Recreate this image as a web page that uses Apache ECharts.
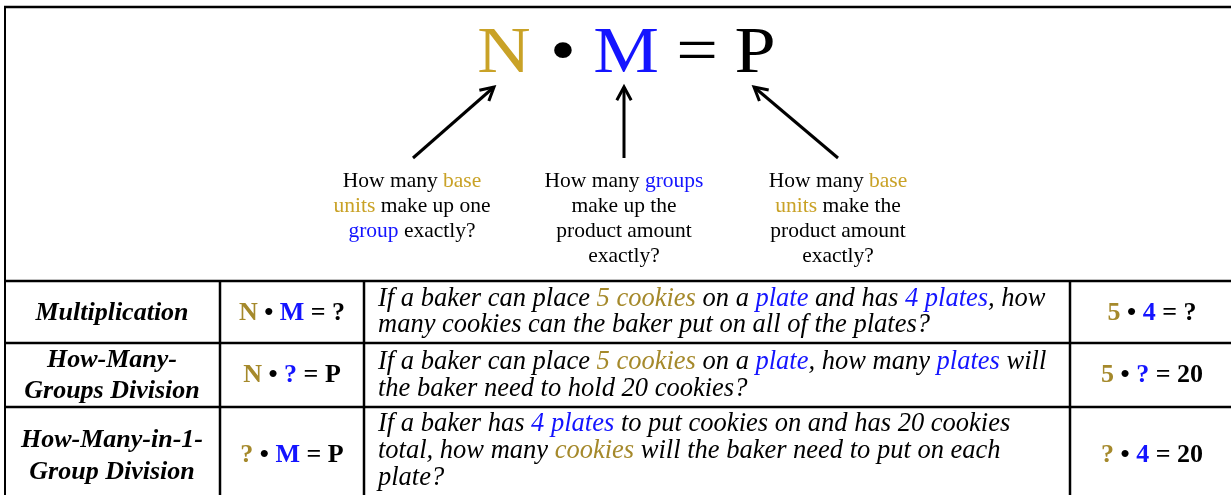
<!DOCTYPE html>
<html>
<head>
<meta charset="utf-8">
<script src="https://cdn.jsdelivr.net/npm/echarts@6/dist/echarts.min.js"></script>
<style>
  html, body { margin: 0; padding: 0; background: #ffffff; }
  #chart { width: 1231px; height: 495px; }
</style>
</head>
<body>
<div id="chart"></div>
<script>
// ---------- DATA ----------
const topFormula = [["N", "g"], ["•", "k"], ["M", "b"], ["=", "k"], ["P", "k"]];

const annotations = [
  [[["How many ", "k"], ["base", "g"]],
   [["units", "g"], [" make up one", "k"]],
   [["group", "b"], [" exactly?", "k"]]],
  [[["How many ", "k"], ["groups", "b"]],
   [["make up the", "k"]],
   [["product amount", "k"]],
   [["exactly?", "k"]]],
  [[["How many ", "k"], ["base", "g"]],
   [["units", "g"], [" make the", "k"]],
   [["product amount", "k"]],
   [["exactly?", "k"]]]
];

const rowLabels = [
  ["Multiplication"],
  ["How-Many-", "Groups Division"],
  ["How-Many-in-1-", "Group Division"]
];

const rowFormulas = [
  [["N", "g"], [" • ", "k"], ["M", "b"], [" = ?", "k"]],
  [["N", "g"], [" • ", "k"], ["?", "b"], [" = P", "k"]],
  [["?", "g"], [" • ", "k"], ["M", "b"], [" = P", "k"]]
];

const rowQuestions = [
  [[["If a baker can place ", "k"], ["5 cookies", "g"], [" on a ", "k"], ["plate", "b"], [" and has ", "k"], ["4 plates", "b"], [", how", "k"]],
   [["many cookies can the baker put on all of the plates?", "k"]]],
  [[["If a baker can place ", "k"], ["5 cookies", "g"], [" on a ", "k"], ["plate", "b"], [", how many ", "k"], ["plates", "b"], [" will", "k"]],
   [["the baker need to hold 20 cookies?", "k"]]],
  [[["If a baker has ", "k"], ["4 plates", "b"], [" to put cookies on and has 20 cookies", "k"]],
   [["total, how many ", "k"], ["cookies", "g"], [" will the baker need to put on each", "k"]],
   [["plate?", "k"]]]
];

const rowExamples = [
  [["5", "g"], [" • ", "k"], ["4", "b"], [" = ?", "k"]],
  [["5", "g"], [" • ", "k"], ["?", "b"], [" = 20", "k"]],
  [["?", "g"], [" • ", "k"], ["4", "b"], [" = 20", "k"]]
];

// ---------- LAYOUT / STYLE ----------
const SERIF = "'Liberation Serif', 'Times New Roman', serif";
const GOLD_TOP = "#c9a227";
const GOLD_TAB = "#a5892b";
const BLUE = "#1414ff";
const INK = "#000000";

const topX = [504, 563, 626, 697, 755];
const topMid = 55;
const topSize = 66;
const topStretch = 1.12;
const arrows = [
  { from: [413, 158], to: [494, 87] },
  { from: [624, 158], to: [624, 87] },
  { from: [838, 158], to: [754, 87] }
];
const annX = [412, 624, 838];
const annMid0 = 181, annStep = 25, annSize = 21.5;

const tableTop = 281;
const rowLines = [343, 407];
const colLines = [220, 364, 1070];
const colCenters = [112, 292, 0, 1152];
const textLeft = 378;
const labelMids = [[313], [360, 391], [440, 472]];
const formulaMids = [313, 375, 455];
const questionMids = [[299, 325], [362, 389], [424, 451, 478]];
const questionSize = 26.5;

function rich(segs) {
  return segs.map(([t, c]) => `{${c}|${t}}`).join("");
}
function richStyles(size, weight, style, gold) {
  const base = { fontFamily: SERIF, fontSize: size, fontWeight: weight, fontStyle: style };
  return {
    k: Object.assign({ fill: INK }, base),
    g: Object.assign({ fill: gold }, base),
    b: Object.assign({ fill: BLUE }, base)
  };
}
function textEl(x, y, segs, size, weight, style, gold, align, sx) {
  return {
    type: "text", x: x, y: y, silent: true, scaleX: sx || 1,
    style: {
      text: rich(segs),
      rich: richStyles(size, weight, style, gold),
      font: `${style} ${weight} ${size}px ${SERIF}`,
      textAlign: align || "center",
      textVerticalAlign: "middle"
    }
  };
}
function lineEl(x1, y1, x2, y2, w) {
  return { type: "line", silent: true, shape: { x1, y1, x2, y2 }, style: { stroke: INK, lineWidth: w } };
}

const elements = [];
// outer frame
elements.push(lineEl(4, 7, 1231, 7, 2.5));
elements.push(lineEl(5, 6, 5, 495, 2));
// top formula
topFormula.forEach((seg, i) => {
  elements.push(textEl(topX[i], topMid, [seg], topSize, "normal", "normal", GOLD_TOP, "center", topStretch));
});
// arrows
arrows.forEach(a => {
  const [x1, y1] = a.from, [x2, y2] = a.to;
  elements.push(lineEl(x1, y1, x2, y2, 3));
  const ang = Math.atan2(y1 - y2, x1 - x2);
  const L = 15, spread = 0.5;
  const p1 = [x2 + L * Math.cos(ang + spread), y2 + L * Math.sin(ang + spread)];
  const p2 = [x2 + L * Math.cos(ang - spread), y2 + L * Math.sin(ang - spread)];
  elements.push({ type: "polyline", silent: true, shape: { points: [p1, [x2, y2], p2] },
    style: { stroke: INK, lineWidth: 3, fill: null, lineJoin: "miter" } });
});
// annotations
annotations.forEach((lines, i) => {
  lines.forEach((segs, j) => {
    elements.push(textEl(annX[i], annMid0 + j * annStep, segs, annSize, "normal", "normal", GOLD_TOP));
  });
});
// table grid
elements.push(lineEl(4, tableTop, 1231, tableTop, 2.5));
rowLines.forEach(y => elements.push(lineEl(5, y, 1231, y, 2.5)));
colLines.forEach(x => elements.push(lineEl(x, tableTop, x, 495, 2.5)));
// table contents
rowLabels.forEach((lines, r) => {
  lines.forEach((t, j) => {
    elements.push(textEl(colCenters[0], labelMids[r][j], [[t, "k"]], 26, "bold", "italic", GOLD_TAB));
  });
  elements.push(textEl(colCenters[1], formulaMids[r], rowFormulas[r], 26, "bold", "normal", GOLD_TAB));
  rowQuestions[r].forEach((segs, j) => {
    elements.push(textEl(textLeft, questionMids[r][j], segs, questionSize, "normal", "italic", GOLD_TAB, "left"));
  });
  elements.push(textEl(colCenters[3], formulaMids[r], rowExamples[r], 26, "bold", "normal", GOLD_TAB));
});

const chart = echarts.init(document.getElementById("chart"), null, { renderer: "canvas" });
chart.setOption({
  backgroundColor: "#ffffff",
  animation: false,
  graphic: { elements: elements }
});
</script>
</body>
</html>
